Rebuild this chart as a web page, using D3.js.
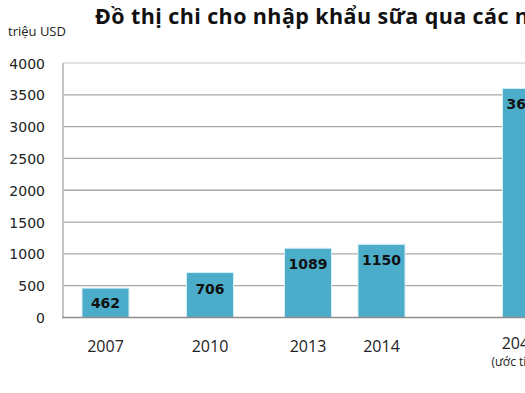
<!DOCTYPE html>
<html>
<head>
<meta charset="utf-8">
<script src="https://cdn.jsdelivr.net/npm/d3@7"></script>
<style>
  html, body { margin: 0; padding: 0; background: #fff; overflow: hidden; }
</style>
</head>
<body>
<div id="chart"></div>
<script>
// Données
const years = [2007, 2010, 2013, 2014, 2040];
const yearLabels = ["2007", "2010", "2013", "2014", "2040"];
const values = [462, 706, 1089, 1150, 3600];
const yTicks = [0, 500, 1000, 1500, 2000, 2500, 3000, 3500, 4000];
const title = "Đồ thị chi cho nhập khẩu sữa qua các năm";
const unitLabel = "triệu USD";
const noteLabel = "(ước tính)";

const width = 525, height = 393;
const plotLeft = 63, plotRight = 640;

const svg = d3.select("#chart")
    .append("svg")
    .attr("width", width)
    .attr("height", height);

// Échelles
const y = d3.scaleLinear()
    .domain([0, 4000])
    .range([317.5, 63]);

// positions irrégulières des catégories (comme dans l'original)
const x = d3.scaleLinear()
    .domain(years)
    .range([105.5, 210, 308, 381.5, 526]);

const barWidth = 47;

// Grille
svg.append("g")
    .selectAll("line")
    .data(yTicks.filter(d => d > 0))
    .enter()
    .append("line")
    .attr("x1", plotLeft)
    .attr("x2", plotRight)
    .attr("y1", d => y(d))
    .attr("y2", d => y(d))
    .attr("stroke", d => d === 4000 ? "#d9d9d9" : "#a8a8a8")
    .attr("stroke-width", 1.3);

// Axe Y (ligne gauche)
svg.append("line")
    .attr("x1", plotLeft).attr("x2", plotLeft)
    .attr("y1", y(4000)).attr("y2", y(0))
    .attr("stroke", "#c4c4c4")
    .attr("stroke-width", 2);

// Axe Y (libellés)
const yAxis = svg.append("g")
    .attr("transform", `translate(${plotLeft - 18},0)`)
    .call(d3.axisLeft(y).tickValues(yTicks).tickFormat(d3.format("d")).tickSize(0).tickPadding(0));
yAxis.select(".domain").remove();
yAxis.selectAll("text")
    .attr("font-family", "DejaVu Sans, sans-serif")
    .attr("font-size", "14px")
    .attr("fill", "#222")
    .attr("dy", "0.36em");

// Barres
svg.selectAll(".bar")
    .data(values)
    .enter()
    .append("rect")
    .attr("class", "bar")
    .attr("x", (d, i) => x(years[i]) - barWidth / 2)
    .attr("y", d => y(d))
    .attr("width", barWidth)
    .attr("height", d => y(0) - y(d))
    .attr("fill", "#4badca")
    .attr("stroke", "#d7eef5")
    .attr("stroke-width", 1);

// Axe X (ligne du bas)
svg.append("line")
    .attr("x1", plotLeft - 1).attr("x2", plotRight)
    .attr("y1", y(0)).attr("y2", y(0))
    .attr("stroke", "#8e8e8e")
    .attr("stroke-width", 1.5);

// Valeurs dans les barres
svg.selectAll(".value")
    .data(values)
    .enter()
    .append("text")
    .attr("class", "value")
    .attr("x", (d, i) => x(years[i]))
    .attr("y", d => Math.min(y(d) + 21, y(0) - 10))
    .attr("text-anchor", "middle")
    .attr("font-family", "DejaVu Sans, sans-serif")
    .attr("font-weight", "bold")
    .attr("font-size", "14px")
    .attr("fill", "#111")
    .text(d => d);

// Libellés des années
svg.selectAll(".year")
    .data(yearLabels)
    .enter()
    .append("text")
    .attr("class", "year")
    .attr("x", (d, i) => x(years[i]) - (i === years.length - 1 ? 6 : 0))
    .attr("y", (d, i) => i === years.length - 1 ? 349 : 352)
    .attr("text-anchor", "middle")
    .attr("font-family", "Open Sans, sans-serif")
    .attr("font-size", "16px")
    .attr("fill", "#222")
    .text(d => d);

svg.append("text")
    .attr("x", x(years[years.length - 1]) - 8)
    .attr("y", 366)
    .attr("text-anchor", "middle")
    .attr("font-family", "Open Sans, sans-serif")
    .attr("font-size", "12px")
    .attr("fill", "#222")
    .text(noteLabel);

// Titre et unité
svg.append("text")
    .attr("x", 95)
    .attr("y", 24)
    .attr("font-family", "Open Sans, sans-serif")
    .attr("font-weight", "bold")
    .attr("font-size", "21.5px")
    .attr("letter-spacing", "0.4px")
    .attr("fill", "#111")
    .text(title);

svg.append("text")
    .attr("x", 8)
    .attr("y", 36)
    .attr("font-family", "Open Sans, sans-serif")
    .attr("font-size", "13px")
    .attr("fill", "#222")
    .text(unitLabel);
</script>
</body>
</html>
